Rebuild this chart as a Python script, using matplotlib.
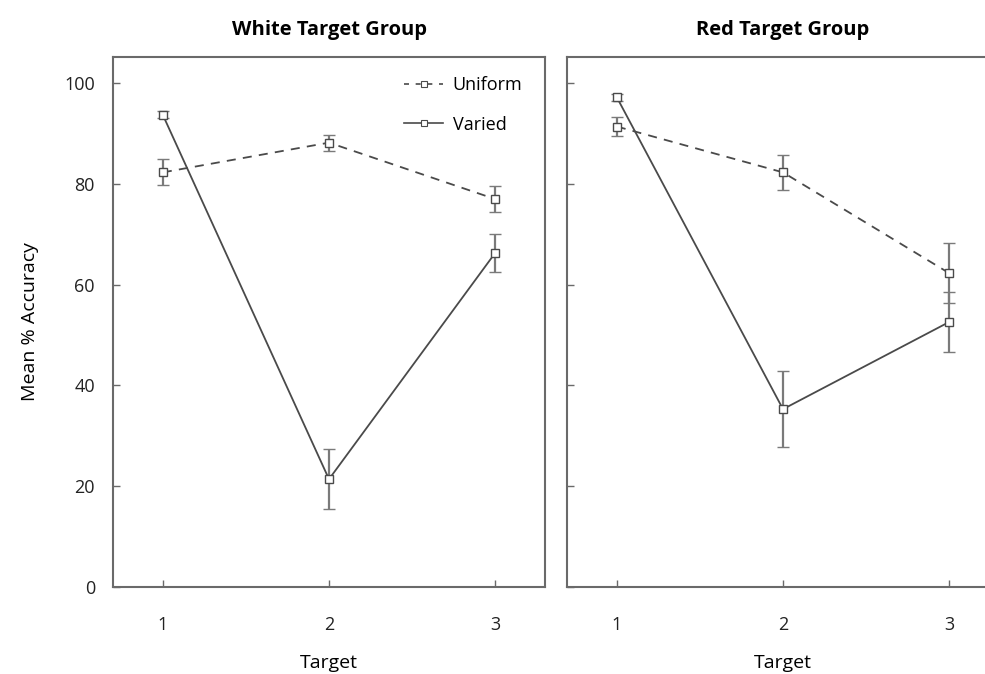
import matplotlib
matplotlib.use("Agg")
import matplotlib.pyplot as plt
from matplotlib.lines import Line2D

plt.rcParams['font.family'] = ['Open Sans', 'DejaVu Sans']

targets = [1, 2, 3]
tick_labels = ["1", "2", "3"]

white_uniform = [82.3, 88.2, 77.0]
white_uniform_err = [2.6, 1.6, 2.6]
white_varied = [93.7, 21.4, 66.3]
white_varied_err = [0.7, 6.0, 3.8]

red_uniform = [91.4, 82.3, 62.3]
red_uniform_err = [1.9, 3.5, 6.0]
red_varied = [97.2, 35.3, 52.6]
red_varied_err = [0.7, 7.5, 6.0]

titles = ["White Target Group", "Red Target Group"]

line_c = "#4a4a4a"
err_c = "#7a7a7a"
spine_c = "#6a6a6a"

fig = plt.figure(figsize=(9.85, 6.74), dpi=100)
ax1 = fig.add_axes([113/985, 1-587/674, 432/985, 530/674])
ax2 = fig.add_axes([567/985, 1-587/674, 432/985, 530/674])

def draw(ax, u, ue, v, ve, title):
    ax.errorbar(targets, u, yerr=ue, color=line_c, ecolor=err_c, elinewidth=1.6,
                capsize=4, capthick=1.4, lw=1.3, ls=(0, (5, 4)), marker='s',
                ms=5.5, mfc='white', mec=line_c, mew=1.0, zorder=3)
    ax.errorbar(targets, v, yerr=ve, color=line_c, ecolor=err_c, elinewidth=1.6,
                capsize=4, capthick=1.4, lw=1.3, ls='-', marker='s',
                ms=5.5, mfc='white', mec=line_c, mew=1.0, zorder=3)
    ax.set_xlim(0.7, 3.3)
    ax.set_ylim(0, 105.2)
    ax.set_xticks(targets)
    ax.set_xticklabels(tick_labels)
    ax.set_yticks([0, 20, 40, 60, 80, 100])
    ax.tick_params(direction='in', length=5, width=1, color=spine_c,
                   labelsize=13, pad=13, colors='#222222')
    ax.tick_params(axis='x', pad=21)
    for s in ax.spines.values():
        s.set_color(spine_c)
        s.set_linewidth(1.5)
    ax.set_title(title, fontsize=14.5, fontweight='bold', pad=16)
    ax.set_xlabel("Target", fontsize=14, labelpad=14)

draw(ax1, white_uniform, white_uniform_err, white_varied, white_varied_err, titles[0])
draw(ax2, red_uniform, red_uniform_err, red_varied, red_varied_err, titles[1])
ax2.tick_params(axis='y', labelleft=False)
ax1.set_ylabel("Mean % Accuracy", fontsize=14, labelpad=18)

handles = [
    Line2D([], [], color=line_c, lw=1.2, ls=(0, (3, 4)), marker='s', ms=4,
           mfc='white', mec=line_c, mew=0.8),
    Line2D([], [], color=line_c, lw=1.2, ls='-', marker='s', ms=4,
           mfc='white', mec=line_c, mew=0.8),
]
ax1.legend(handles, ["Uniform", "Varied"], loc='upper right', frameon=False,
           fontsize=13, handlelength=2.2, handletextpad=0.5, labelspacing=1.2,
           bbox_to_anchor=(0.985, 0.995))

fig.savefig("out.png", dpi=100)
